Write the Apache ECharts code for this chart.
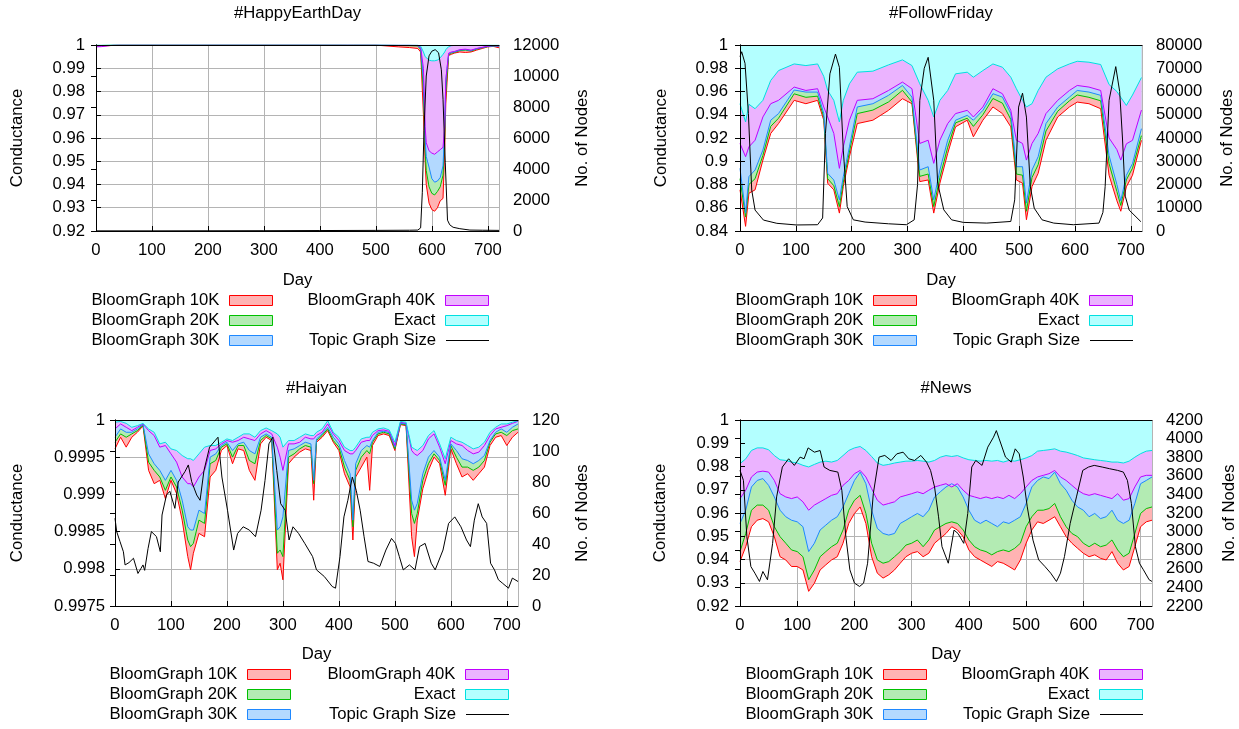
<!DOCTYPE html>
<html><head><meta charset="utf-8">
<script src="https://cdn.jsdelivr.net/npm/echarts@6/dist/echarts.min.js"></script>
<style>html,body{margin:0;padding:0;background:#fff}#c{width:1239px;height:729px}</style>
</head><body><div id="c"></div>
<script>
// ---------- labels ----------
const chartTitles = ['#HappyEarthDay', '#FollowFriday', '#Haiyan', '#News'];
const bloomNames = ['BloomGraph 10K', 'BloomGraph 20K', 'BloomGraph 30K', 'BloomGraph 40K', 'Exact'];
const topicName = 'Topic Graph Size';
const xName = 'Day', yName = 'Conductance', y2Name = 'No. of Nodes';

// ---------- #HappyEarthDay ----------
const heDays = [0,10,20,30,40,100,200,300,400,440,450,460,500,540,560,575,580,585,588,590,595,600,605,610,615,620,623,625,630,635,640,650,660,670,680,690,700,710,720];
const he10K = [0.9996,0.9997,0.9997,0.9998,0.99995,0.99995,0.99995,0.99995,0.99995,0.99995,0.99995,0.99995,0.99995,0.9992,0.9989,0.9985,0.997,0.970,0.950,0.940,0.932,0.9292,0.9285,0.930,0.933,0.934,0.955,0.975,0.9955,0.996,0.9965,0.997,0.9968,0.997,0.9978,0.9985,0.9992,0.9994,0.9988];
const he20K = [0.9997,0.9998,0.9999,0.99995,0.99995,0.99995,0.99995,0.99995,0.99995,0.99995,0.9999,0.99995,0.99995,0.9998,0.9997,0.9996,0.998,0.98,0.955,0.946,0.939,0.9362,0.9355,0.937,0.939,0.944,0.96,0.98,0.9958,0.9965,0.9968,0.9976,0.9978,0.9974,0.9982,0.9988,0.9993,0.9995,0.9994];
const he30K = [0.9996,0.9997,0.9998,0.9999,0.99995,0.99995,0.99995,0.99995,0.99995,0.99995,0.99995,0.99995,0.99995,0.9998,0.9998,0.9997,0.9985,0.985,0.96,0.952,0.9475,0.9425,0.941,0.9415,0.943,0.948,0.965,0.985,0.9962,0.9968,0.997,0.9978,0.998,0.9976,0.9984,0.9989,0.9994,0.9996,0.9995];
const he40K = [0.9992,0.9993,0.9996,0.9999,0.99995,0.99995,0.99995,0.99995,0.99995,0.99995,0.99995,0.99995,0.99995,0.9999,0.9999,0.9998,0.999,0.99,0.965,0.958,0.9545,0.9535,0.953,0.954,0.955,0.956,0.965,0.985,0.9965,0.997,0.9972,0.998,0.9982,0.9978,0.9985,0.999,0.9995,0.9997,0.9996];
const heExact = [0.99995,0.99995,0.99995,0.99995,0.99995,0.99995,0.99995,0.99995,0.99995,0.99995,0.99995,0.99995,0.99995,0.99995,0.99995,0.9999,0.9995,0.997,0.995,0.9942,0.9935,0.9932,0.9932,0.9935,0.9945,0.996,0.997,0.998,0.9993,0.9997,0.9998,0.9998,0.9998,0.9998,0.9998,0.9999,0.9999,0.9999,0.9999];
const heTopicDays = [0,100,200,300,400,500,560,575,580,583,586,590,595,600,606,612,617,620,624,628,632,638,650,668,690,720];
const heTopic = [10,10,15,20,30,40,50,60,200,2500,6500,10000,11300,11600,11700,11500,10400,8500,4400,700,400,240,150,60,50,40];

// ---------- #FollowFriday ----------
const ffDays = [0,10,16,27,41,55,69,97,118,139,150,157,168,178,185,196,210,238,266,291,308,322,337,347,358,372,386,407,418,435,453,470,485,495,506,513,523,534,548,569,590,604,625,646,661,675,682,692,703,719];
const ff10K = [0.8754,0.844,0.8725,0.8754,0.901,0.9239,0.9324,0.9524,0.9495,0.9524,0.9353,0.8811,0.8754,0.8554,0.8782,0.9039,0.9324,0.9353,0.9438,0.9538,0.9495,0.8825,0.8839,0.8554,0.8811,0.9067,0.9296,0.9353,0.921,0.9353,0.9467,0.941,0.9296,0.8839,0.8811,0.8497,0.8782,0.8896,0.9181,0.9381,0.9467,0.9509,0.9495,0.9452,0.888,0.866,0.857,0.878,0.888,0.918];
const ff20K = [0.885,0.852,0.880,0.885,0.905,0.930,0.937,0.958,0.955,0.956,0.938,0.885,0.879,0.861,0.882,0.908,0.941,0.944,0.951,0.961,0.951,0.887,0.889,0.861,0.886,0.912,0.933,0.937,0.930,0.940,0.954,0.950,0.936,0.889,0.888,0.857,0.886,0.897,0.926,0.943,0.952,0.957,0.955,0.952,0.898,0.874,0.862,0.884,0.894,0.922];
const ff30K = [0.8939,0.8554,0.8868,0.8925,0.9096,0.9353,0.941,0.9613,0.9595,0.9595,0.941,0.8896,0.8839,0.8668,0.8868,0.9124,0.9467,0.9495,0.9567,0.9652,0.9552,0.8925,0.8953,0.8668,0.8925,0.9181,0.9353,0.9395,0.9353,0.9438,0.9581,0.9552,0.941,0.8953,0.8953,0.864,0.8925,0.9039,0.9324,0.9467,0.9552,0.9609,0.9595,0.9567,0.905,0.880,0.866,0.888,0.898,0.928];
const ff40K = [0.9153,0.9039,0.9124,0.9181,0.9381,0.9495,0.9524,0.9638,0.9609,0.9624,0.9467,0.9381,0.9239,0.8939,0.9124,0.9353,0.9524,0.9538,0.9609,0.9681,0.9624,0.9153,0.9181,0.8982,0.9181,0.9324,0.941,0.9438,0.9381,0.9467,0.9624,0.9581,0.9438,0.9181,0.9153,0.901,0.9153,0.9239,0.941,0.9524,0.9609,0.9652,0.9638,0.9609,0.920,0.910,0.901,0.915,0.918,0.944];
const ffExact = [0.9495,0.9338,0.949,0.9452,0.9524,0.9695,0.978,0.9837,0.9823,0.9837,0.973,0.961,0.9524,0.9338,0.9524,0.9666,0.9766,0.9775,0.9829,0.9872,0.9823,0.9666,0.9524,0.9381,0.9524,0.9609,0.9752,0.9766,0.9723,0.978,0.9837,0.9809,0.9723,0.9624,0.9524,0.9467,0.9495,0.9609,0.9723,0.9795,0.9837,0.986,0.9852,0.9832,0.966,0.960,0.955,0.948,0.957,0.972];
const ffTopicDays = [0,3,9,15,21,27,42,66,101,139,148,153,161,171,178,185,192,203,224,266,298,312,318,322,330,337,347,354,365,379,400,442,485,492,499,506,513,520,527,541,562,597,643,650,654,661,673,680,685,690,697,718];
const ffTopic = [75000,77100,72100,50600,17600,9000,4700,3300,2600,2700,5600,41900,67600,76100,70400,34800,10500,4800,3850,3100,2700,4800,20000,56200,70000,74700,56200,20500,9100,4800,3700,3400,4100,13400,53300,59300,49000,19100,9800,4800,3400,2700,3400,8000,19100,56200,70700,60000,40000,15000,9000,4000];

// ---------- #Haiyan ----------
const hyDays = [0,10,20,30,40,50,60,70,80,90,100,110,120,130,135,140,150,160,170,180,190,200,210,220,230,240,250,260,270,280,290,295,300,310,320,330,340,350,355,360,370,380,390,400,410,420,425,430,440,450,455,460,470,480,490,500,510,520,530,535,540,550,560,570,580,590,600,610,620,630,640,650,660,670,680,690,700,710,720];
const hy10K = [0.999612,0.999768,0.999635,0.999768,0.999835,0.99992,0.999323,0.999144,0.999189,0.998944,
0.999189,0.999011,0.998654,0.998164,0.997986,0.998209,0.998476,0.998431,0.999234,0.999323,
0.99959,0.999657,0.999412,0.999612,0.99959,0.999323,0.999189,0.999679,0.999768,0.999724,
0.997986,0.998075,0.997852,0.999412,0.999501,0.999568,0.999612,0.99959,0.998922,0.999701,
0.999768,0.999857,0.999701,0.99959,0.999278,0.9991,0.998387,0.999234,0.999367,0.999501,
0.999055,0.999657,0.999791,0.999813,0.999791,0.99959,0.999938,0.999924,0.998431,0.998164,
0.998654,0.999078,0.999323,0.999501,0.999412,0.998988,0.999612,0.999412,0.999234,0.999278,
0.999189,0.999278,0.999367,0.999657,0.999768,0.999791,0.999657,0.999768,0.999835];
const hy20K = [0.999701,0.999813,0.999768,0.999813,0.999857,0.999929,0.999434,0.999323,0.999234,0.999055,
0.999234,0.9991,0.998788,0.998387,0.998298,0.998342,0.998654,0.99861,0.999412,0.999456,
0.999635,0.999679,0.999501,0.999657,0.999657,0.999456,0.999412,0.999724,0.999791,0.999746,
0.998209,0.998253,0.998164,0.999501,0.999545,0.999612,0.999657,0.999635,0.999144,0.999724,
0.999791,0.99988,0.999724,0.999635,0.999367,0.999189,0.998565,0.999323,0.999501,0.99959,
0.999545,0.999701,0.999813,0.999835,0.999813,0.999612,0.999947,0.999938,0.998743,0.99861,
0.998743,0.999189,0.999412,0.999545,0.999456,0.999122,0.999657,0.999501,0.999367,0.999367,
0.999323,0.999367,0.999456,0.999701,0.999813,0.999835,0.999791,0.999857,0.99988];
const hy30K = [0.999768,0.99988,0.999835,0.999835,0.99988,0.999938,0.999545,0.999412,0.999323,0.999189,
0.999323,0.999189,0.998922,0.998565,0.998521,0.998521,0.998788,0.998743,0.999501,0.999545,
0.999657,0.999701,0.99959,0.999679,0.999701,0.99959,0.999545,0.999768,0.999813,0.999768,
0.998521,0.998565,0.998699,0.99959,0.999612,0.999657,0.999701,0.999679,0.999189,0.999746,
0.999813,0.999902,0.999768,0.999679,0.999456,0.999278,0.998654,0.999412,0.99959,0.999657,
0.999635,0.999724,0.999835,0.999848,0.999831,0.999635,0.999955,0.999947,0.998922,0.998788,
0.998877,0.999278,0.999501,0.99959,0.999501,0.999189,0.999679,0.99959,0.999479,0.999456,
0.999412,0.999456,0.999523,0.999724,0.999835,0.99988,0.999835,0.999902,0.999947];
const hy40K = [0.99988,0.999947,0.999902,0.999857,0.999902,0.999947,0.999857,0.999791,0.999635,0.999657,
0.999545,0.999434,0.999234,0.999144,0.999144,0.9991,0.999234,0.999323,0.99959,0.999612,
0.999679,0.999724,0.999701,0.999724,0.999768,0.999746,0.999724,0.999813,0.999857,0.999813,
0.999635,0.999501,0.999323,0.999679,0.999679,0.999701,0.999768,0.999746,0.999746,0.999791,
0.999835,0.999947,0.999813,0.999724,0.99959,0.999545,0.999545,0.99959,0.999701,0.999724,
0.999724,0.999791,0.999857,0.999866,0.999848,0.999657,0.999969,0.999955,0.99959,0.999545,
0.999523,0.99959,0.999746,0.999813,0.999635,0.999412,0.999724,0.999679,0.999657,0.99959,
0.999545,0.999568,0.999657,0.999791,0.99988,0.999902,0.999924,0.999955,0.999982];
const hyExact = [0.99997,0.99998,0.999955,0.999902,0.999924,0.999955,0.99988,0.999835,0.999679,0.999701,
0.999612,0.99959,0.999523,0.999479,0.999479,0.999456,0.999545,0.999635,0.999657,0.999657,
0.999701,0.999746,0.999724,0.999768,0.999813,0.999813,0.999768,0.999857,0.999893,0.999857,
0.999813,0.999768,0.999635,0.999724,0.999724,0.999768,0.999813,0.999791,0.999791,0.999835,
0.99988,0.99999,0.999835,0.999768,0.999635,0.99959,0.99959,0.999635,0.999746,0.999768,
0.999768,0.999835,0.99988,0.999893,0.999866,0.999701,0.99998,0.99997,0.999635,0.999612,
0.99959,0.999657,0.999791,0.999857,0.999679,0.999479,0.999768,0.999724,0.999701,0.999657,
0.999612,0.999635,0.999701,0.999835,0.999902,0.999947,0.999947,0.99997,0.99999];
const hyTopicDays = [0,3,9,15,18,25,33,41,46,50,53,59,65,74,81,84,92,98,107,113,125,131,137,146,152,159,169,184,191,201,212,219,229,240,251,261,268,275,282,289,296,304,311,318,328,339,353,360,374,388,394,402,409,416,424,431,438,445,452,462,473,484,494,501,508,515,526,536,544,554,565,572,586,596,607,618,628,635,642,649,656,664,671,678,685,692,703,710,720];
const hyTopic = [56.6,48,41.5,35,26.5,28,30.8,21,24,26.5,23,37,48,44.8,35,58.7,71.6,74,63,80,86.7,91,80.2,71.6,68.2,87.5,102.5,108.9,83.2,61.8,36.1,46.8,51.1,49,44.7,61.8,81,104.6,108.9,87.5,66,61.8,42.6,51.1,46.8,40.4,31.9,23.3,19,12.6,11.5,31.9,57.5,68.2,83.2,74.6,61.8,44.7,28.7,27.6,25.5,36.1,43.6,40.4,31.9,23.3,26.5,23.3,38.3,40.4,27.6,23.3,36.1,53.3,57.5,51.1,42.6,38.3,55.4,66,57.5,53.3,27.6,23.3,16.9,14.8,11.5,18,15.8];

// ---------- #News ----------
const nwDays = [0,10,20,30,40,50,60,70,80,90,100,110,120,130,140,150,160,170,180,190,200,210,220,230,240,250,260,270,280,290,300,310,320,330,340,350,360,370,380,390,400,410,420,430,440,450,460,470,480,490,500,510,520,530,540,550,560,570,580,590,600,610,620,630,640,650,660,670,680,690,700,710,720];
const nw10K = [0.9391,0.9455,0.9541,0.9569,0.9576,0.9562,0.9498,0.9412,0.9398,0.937,
0.937,0.9355,0.9263,0.9298,0.9355,0.9377,0.9398,0.9412,0.947,0.9555,
0.9598,0.9626,0.9555,0.9412,0.9341,0.932,0.9334,0.9355,0.9384,0.9412,
0.9427,0.9434,0.9412,0.9427,0.947,0.9491,0.9512,0.9541,0.9527,0.9498,
0.9441,0.9412,0.9398,0.9384,0.937,0.9391,0.9384,0.937,0.9355,0.9398,
0.947,0.9527,0.9562,0.9555,0.9569,0.9584,0.9541,0.9498,0.947,0.9448,
0.9427,0.9412,0.942,0.9405,0.9398,0.9434,0.9384,0.9355,0.937,0.9455,
0.9541,0.9562,0.9569];
const nw20K = [0.9434,0.9512,0.9612,0.9634,0.9634,0.9612,0.9541,0.9498,0.947,0.9441,
0.9434,0.9412,0.9313,0.9355,0.9412,0.9434,0.9455,0.947,0.9527,0.9612,
0.9655,0.9676,0.9598,0.947,0.9398,0.9384,0.9391,0.9412,0.9434,0.9462,
0.947,0.9484,0.9455,0.9484,0.9527,0.9541,0.9555,0.9562,0.9555,0.9527,
0.9484,0.9455,0.9441,0.9434,0.942,0.9434,0.9441,0.9434,0.9448,0.947,
0.9541,0.9584,0.9612,0.9612,0.9619,0.9641,0.9584,0.9541,0.9512,0.9498,
0.947,0.9455,0.947,0.9455,0.9462,0.9484,0.9441,0.9412,0.9427,0.9512,
0.9598,0.9619,0.9626];
const nw30K = [0.9555,0.9612,0.9712,0.974,0.9748,0.9719,0.9669,0.9612,0.9584,0.9569,
0.9562,0.9541,0.9434,0.947,0.9527,0.9548,0.9569,0.9584,0.9626,0.9683,
0.974,0.9776,0.9726,0.9612,0.9534,0.9512,0.9505,0.9512,0.9555,0.9569,
0.9584,0.9598,0.9584,0.9612,0.9669,0.9691,0.9712,0.9726,0.9712,0.9669,
0.9612,0.9569,0.9555,0.9569,0.9555,0.9541,0.9562,0.9555,0.9569,0.9584,
0.9641,0.9712,0.974,0.9755,0.9748,0.9776,0.9726,0.9698,0.9655,0.9626,
0.9612,0.9584,0.9598,0.9576,0.9584,0.9612,0.9569,0.9555,0.9569,0.9641,
0.9726,0.974,0.9755];
const nw40K = [0.9662,0.9698,0.9755,0.9776,0.978,0.9776,0.974,0.9683,0.9669,0.9662,
0.9669,0.9648,0.9612,0.9634,0.9648,0.9662,0.9676,0.9683,0.9719,0.974,
0.9769,0.9783,0.9755,0.9705,0.9655,0.9634,0.9641,0.9648,0.9669,0.9676,
0.9683,0.9691,0.9683,0.9698,0.9712,0.9719,0.9726,0.9712,0.9726,0.9698,
0.9676,0.9669,0.9662,0.9669,0.9662,0.9669,0.9662,0.9676,0.9662,0.9683,
0.9712,0.974,0.9755,0.9762,0.9769,0.9783,0.9755,0.974,0.9719,0.9698,
0.9683,0.9676,0.9683,0.9676,0.9669,0.9662,0.9683,0.9655,0.9662,0.9712,
0.9755,0.9762,0.9762];
const nwExact = [0.9812,0.9833,0.9869,0.988,0.988,0.9872,0.9847,0.9829,0.9826,0.9819,
0.9815,0.9805,0.9798,0.9809,0.9819,0.9823,0.9819,0.9826,0.9847,0.9869,
0.988,0.9886,0.9869,0.9843,0.9815,0.9805,0.9809,0.9815,0.9819,0.9823,
0.9823,0.9826,0.9823,0.9819,0.9826,0.984,0.9847,0.9843,0.9847,0.9837,
0.9829,0.9826,0.9823,0.9826,0.9823,0.9826,0.9819,0.9826,0.9823,0.9829,
0.9837,0.9847,0.9866,0.9869,0.9872,0.9876,0.9866,0.9862,0.9855,0.9847,
0.9837,0.9833,0.9829,0.9826,0.9823,0.9819,0.9819,0.9815,0.9823,0.984,
0.9855,0.9866,0.9869];
const nwTopicDays = [0,6,12,19,26,34,40,48,57,64,74,85,95,105,112,119,130,140,147,157,171,178,185,192,200,209,216,223,233,243,253,264,274,285,295,305,316,326,333,340,347,353,364,374,381,391,398,405,412,423,433,443,448,453,464,474,481,488,495,502,512,522,533,543,553,560,567,577,588,599,609,619,633,646,660,670,677,684,691,698,705,715,720];
const nwTopic = [3658,3551,2945,2624,2553,2464,2571,2482,2874,3373,3694,3783,3712,3801,3783,3900,3854,3872,3694,3658,3640,3444,2945,2589,2446,2410,2446,2660,3409,3801,3819,3765,3836,3854,3783,3765,3819,3747,3658,3480,3159,2838,2660,3016,2980,2874,3195,3694,3765,3712,3908,4015,4086,3997,3801,3747,3890,3836,3587,3266,2909,2696,2624,2553,2464,2553,2731,3088,3373,3658,3694,3712,3694,3676,3658,3640,3551,3302,2838,2660,2589,2482,2464];

const panels = [
  {days: heDays, cond: [he10K, he20K, he30K, he40K, heExact], topicDays: heTopicDays, topic: heTopic},
  {days: ffDays, cond: [ff10K, ff20K, ff30K, ff40K, ffExact], topicDays: ffTopicDays, topic: ffTopic},
  {days: hyDays, cond: [hy10K, hy20K, hy30K, hy40K, hyExact], topicDays: hyTopicDays, topic: hyTopic},
  {days: nwDays, cond: [nw10K, nw20K, nw30K, nw40K, nwExact], topicDays: nwTopicDays, topic: nwTopic}
];

// ---------- layout & style ----------
const layout = [
  {left: 96, top: 45, width: 403, height: 186, yMin: 0.92, yMax: 1, yInt: 0.01, y2Min: 0, y2Max: 12000, y2Int: 2000,
   titleX: 297.5, titleY: 5, lgCol: [273, 489], lgRows: [301, 321, 341], cGap: 70, nGap: 75, dGap: 41, lMargin: 11},
  {left: 740, top: 45, width: 402, height: 186, yMin: 0.84, yMax: 1, yInt: 0.02, y2Min: 0, y2Max: 80000, y2Int: 10000,
   titleX: 941, titleY: 5, lgCol: [917, 1133], lgRows: [301, 321, 341], cGap: 70, nGap: 77, dGap: 41, lMargin: 12},
  {left: 115, top: 420, width: 403, height: 186, yMin: 0.9975, yMax: 1, yInt: 0.0005, y2Min: 0, y2Max: 120, y2Int: 20,
   titleX: 316.5, titleY: 380, lgCol: [291, 509], lgRows: [675, 695, 715], cGap: 89, nGap: 56, dGap: 40, lMargin: 10},
  {left: 740, top: 420, width: 412, height: 186, yMin: 0.92, yMax: 1, yInt: 0.01, y2Min: 2200, y2Max: 4200, y2Int: 200,
   titleX: 946, titleY: 380, lgCol: [927, 1143], lgRows: [675, 695, 715], cGap: 71, nGap: 69, dGap: 40, lMargin: 11}
];
const fillColors = ['#ffb3b3', '#b3ebb3', '#b3d9ff', '#ebb3ff', '#b3ffff'];
const lineColors = ['#ff0000', '#00c000', '#1e88ff', '#c000ff', '#00e0e0'];
const gridGrey = '#b4b4b4';
const FS = 16.7;
const FONT = '"Liberation Sans", Arial, Helvetica, sans-serif';
const W = 1239;

const option = {
  animation: false, backgroundColor: '#ffffff',
  textStyle: {fontFamily: FONT, color: '#000'},
  title: [], grid: [], xAxis: [], yAxis: [], legend: [], series: []
};

panels.forEach((p, i) => {
  const L = layout[i];
  const axisLine = {show: true, lineStyle: {color: '#000', width: 1}};
  const tick = {show: true, inside: true, length: 5, lineStyle: {color: '#000', width: 1}};
  const nameStyle = {fontSize: FS, color: '#000', fontFamily: FONT};
  option.title.push({text: chartTitles[i], left: L.titleX, top: L.titleY, textAlign: 'center', padding: 0,
    textStyle: {fontSize: FS, fontWeight: 'normal', color: '#000', fontFamily: FONT}});
  option.grid.push({left: L.left, top: L.top, width: L.width, height: L.height, containLabel: false, outerBoundsMode: 'none'});
  // bottom x axis (with vertical grid lines, beneath the series)
  option.xAxis.push({gridIndex: i, type: 'value', position: 'bottom', min: 0, max: 720, interval: 100, z: 0,
    axisLine, axisTick: tick, axisLabel: {fontSize: FS, color: '#000', margin: 11, showMaxLabel: false, fontFamily: FONT},
    splitLine: {show: true, lineStyle: {color: gridGrey, width: 1}},
    name: xName, nameLocation: 'middle', nameGap: L.dGap, nameTextStyle: nameStyle});
  // top border
  option.xAxis.push({gridIndex: i, type: 'value', position: 'top', min: 0, max: 720, interval: 100, z: 10,
    axisLine, axisTick: {show: false}, axisLabel: {show: false}, splitLine: {show: false}});
  // left conductance axis (above series)
  option.yAxis.push({gridIndex: i, type: 'value', position: 'left', min: L.yMin, max: L.yMax, interval: L.yInt, z: 10,
    axisLine, axisTick: tick, axisLabel: {fontSize: FS, color: '#000', margin: L.lMargin, fontFamily: FONT},
    splitLine: {show: false}, name: yName, nameLocation: 'middle', nameGap: L.cGap, nameTextStyle: nameStyle});
  // right node-count axis
  option.yAxis.push({gridIndex: i, type: 'value', position: 'right', min: L.y2Min, max: L.y2Max, interval: L.y2Int, z: 10,
    axisLine, axisTick: tick, axisLabel: {fontSize: FS, color: '#000', margin: 14, fontFamily: FONT, formatter: v => String(Math.round(v))},
    splitLine: {show: false}, name: y2Name, nameLocation: 'middle', nameGap: L.nGap, nameTextStyle: nameStyle});
  // hidden left axis carrying horizontal grid lines beneath the series
  option.yAxis.push({gridIndex: i, type: 'value', position: 'left', min: L.yMin, max: L.yMax, interval: L.yInt, z: 0,
    axisLine: {show: false}, axisTick: {show: false}, axisLabel: {show: false},
    splitLine: {show: true, lineStyle: {color: gridGrey, width: 1}}});

  p.cond.forEach((arr, k) => {
    option.series.push({
      name: bloomNames[k], type: 'line', xAxisIndex: 2 * i, yAxisIndex: 3 * i,
      data: p.days.map((d, j) => [d, arr[j]]),
      symbol: 'none', showSymbol: false, silent: true, z: 2,
      lineStyle: {color: lineColors[k], width: 1}, itemStyle: {color: lineColors[k]},
      areaStyle: {origin: 'end', color: fillColors[k], opacity: 1}
    });
  });
  option.series.push({
    name: topicName, type: 'line', xAxisIndex: 2 * i, yAxisIndex: 3 * i + 1,
    data: p.topicDays.map((d, j) => [d, p.topic[j]]),
    symbol: 'none', showSymbol: false, silent: true, z: 3,
    lineStyle: {color: '#000', width: 1}, itemStyle: {color: '#000'}
  });

  const legendNames = bloomNames.concat([topicName]);
  legendNames.forEach((nm, k) => {
    const col = k < 3 ? 0 : 1, row = k % 3, isTopic = k === 5;
    option.legend.push({
      data: [nm], selectedMode: false, orient: 'horizontal', align: 'right',
      right: W - L.lgCol[col], top: L.lgRows[row] - 9, padding: 0, itemGap: 0,
      itemWidth: 43, itemHeight: isTopic ? 1 : 10, icon: 'rect',
      itemStyle: isTopic ? {color: '#000', borderWidth: 0} : {color: fillColors[k], borderColor: lineColors[k], borderWidth: 1},
      textStyle: {fontSize: FS, color: '#000', fontFamily: FONT, padding: [0, 5, 0, 0]}
    });
  });
});

const chart = echarts.init(document.getElementById('c'), null, {renderer: 'canvas'});
chart.setOption(option);
</script>
</body></html>
